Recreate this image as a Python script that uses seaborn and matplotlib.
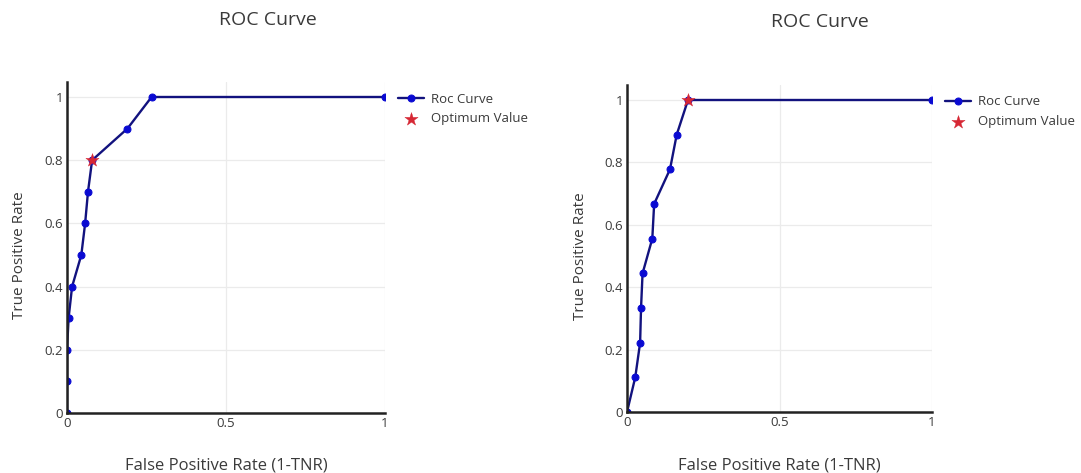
import matplotlib
matplotlib.use("Agg")
import matplotlib.pyplot as plt
import seaborn as sns
import pandas as pd

# ROC points
left_fpr = [0, 0, 0, 0.005, 0.016, 0.045, 0.057, 0.066, 0.079, 0.19, 0.266, 1.0]
left_tpr = [0, 0.1, 0.2, 0.3, 0.4, 0.5, 0.6, 0.7, 0.8, 0.9, 1.0, 1.0]
left_opt = ([0.079], [0.8])

right_fpr = [0, 0.027, 0.043, 0.046, 0.051, 0.083, 0.089, 0.141, 0.163, 0.2, 1.0]
right_tpr = [0, 0.111, 0.222, 0.333, 0.444, 0.556, 0.667, 0.778, 0.889, 1.0, 1.0]
right_opt = ([0.2], [1.0])

y_ticks = [0, 0.2, 0.4, 0.6, 0.8, 1]
y_labels = ["0", "0.2", "0.4", "0.6", "0.8", "1"]
x_ticks = [0, 0.5, 1]
x_labels = ["0", "0.5", "1"]

sns.set_style("whitegrid")
plt.rcParams['font.family'] = ['Open Sans', 'DejaVu Sans']
txt = '#3a3a3a'

fig = plt.figure(figsize=(10.81, 4.73), dpi=100)

# axes boxes in pixels: left, bottom (y=0), width, top of axis line
boxes = [(67, 413, 318, 82), (627, 412, 305, 85)]
legend_x = [398, 945]
titles_x = [268, 820]
titles_y = [20, 22]
sets = [(left_fpr, left_tpr, left_opt), (right_fpr, right_tpr, right_opt)]

for i, (fpr, tpr, opt) in enumerate(sets):
    l, b, w, t = boxes[i]
    ax = fig.add_axes([l / 1081, 1 - b / 473, w / 1081, (b - t) / 473])
    df = pd.DataFrame({'fpr': fpr, 'tpr': tpr})
    sns.lineplot(data=df, x='fpr', y='tpr', sort=False, estimator=None,
                 color='#12127e', linewidth=1.7, marker='o', markersize=5,
                 markerfacecolor='#0a0ad2', markeredgecolor='#0a0ad2',
                 label='Roc Curve', ax=ax)
    sns.scatterplot(x=opt[0], y=opt[1], marker='*', s=100, color='#d62734',
                    edgecolor='#d62734', linewidth=0.3, label='Optimum Value',
                    ax=ax, zorder=5)
    ytop = 1 + 15 / (b - t - 15)
    ax.set_xlim(0, 1)
    ax.set_ylim(0, ytop)
    ax.set_xticks(x_ticks)
    ax.set_xticklabels(x_labels)
    ax.set_yticks(y_ticks)
    ax.set_yticklabels(y_labels)
    ax.tick_params(length=0, labelsize=9.5, colors=txt, pad=3)
    ax.grid(True, color='#ebebeb', linewidth=0.9)
    for s in ['top', 'right']:
        ax.spines[s].set_visible(False)
    for s in ['left', 'bottom']:
        ax.spines[s].set_color('#222222')
        ax.spines[s].set_linewidth(1.8)
    ax.set_xlabel('False Positive Rate (1-TNR)', fontsize=12, color=txt, va='center')
    ax.set_ylabel('True Positive Rate', fontsize=11, color=txt, va='center')
    ax.xaxis.set_label_coords(0.5, -(465 - b) / (b - t))
    ax.yaxis.set_label_coords(-47 / w, 0.5 / ytop)
    leg = ax.legend(loc='upper left',
                    bbox_to_anchor=((legend_x[i] - l) / w, 0.968),
                    frameon=False, fontsize=9.5, handlelength=2.0,
                    labelspacing=0.5, handletextpad=0.5,
                    borderpad=0, borderaxespad=0)
    for tx in leg.get_texts():
        tx.set_color(txt)
    fig.text(titles_x[i] / 1081, 1 - titles_y[i] / 473, 'ROC Curve',
             ha='center', va='center', fontsize=14, color=txt)

plt.savefig('out.png', dpi=100)
